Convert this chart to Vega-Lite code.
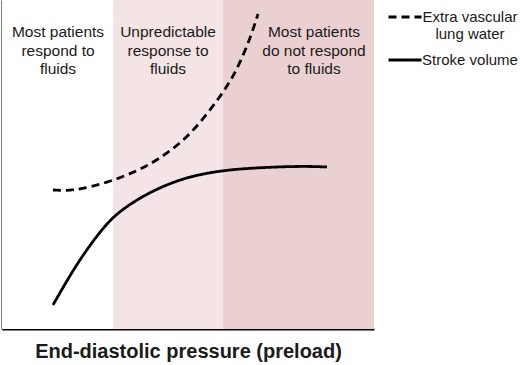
{
  "$schema": "https://vega.github.io/schema/vega-lite/v6.json",
  "width": 372,
  "height": 329,
  "autosize": "none",
  "padding": {"left": 2, "top": 0, "right": 146, "bottom": 36},
  "background": "white",
  "config": {"view": {"stroke": null}, "font": "Liberation Sans"},
  "datasets": {
    "regions": [
      {"start": 0, "end": 111, "zone": "white", "label": "Most patients\nrespond to\nfluids", "cx": 56},
      {"start": 111, "end": 221, "zone": "light", "label": "Unpredictable\nresponse to\nfluids", "cx": 166},
      {"start": 221, "end": 372, "zone": "dark", "label": "Most patients\ndo not respond\nto fluids", "cx": 312}
    ],
    "curves": [
      {"series": "Extra vascular lung water", "x": 51, "y": 139},
      {"series": "Extra vascular lung water", "x": 71, "y": 138},
      {"series": "Extra vascular lung water", "x": 105, "y": 146},
      {"series": "Extra vascular lung water", "x": 138, "y": 159},
      {"series": "Extra vascular lung water", "x": 160, "y": 172},
      {"series": "Extra vascular lung water", "x": 181, "y": 188},
      {"series": "Extra vascular lung water", "x": 198, "y": 206},
      {"series": "Extra vascular lung water", "x": 218, "y": 232},
      {"series": "Extra vascular lung water", "x": 231, "y": 252},
      {"series": "Extra vascular lung water", "x": 241, "y": 273},
      {"series": "Extra vascular lung water", "x": 250, "y": 296},
      {"series": "Extra vascular lung water", "x": 256, "y": 315},
      {"series": "Stroke volume", "x": 51, "y": 24},
      {"series": "Stroke volume", "x": 71, "y": 59},
      {"series": "Stroke volume", "x": 88, "y": 84},
      {"series": "Stroke volume", "x": 108, "y": 110},
      {"series": "Stroke volume", "x": 128, "y": 125},
      {"series": "Stroke volume", "x": 150, "y": 138},
      {"series": "Stroke volume", "x": 181, "y": 151},
      {"series": "Stroke volume", "x": 215, "y": 158},
      {"series": "Stroke volume", "x": 248, "y": 161},
      {"series": "Stroke volume", "x": 298, "y": 163},
      {"series": "Stroke volume", "x": 325, "y": 162}
    ]
  },
  "layer": [
    {
      "data": {"name": "regions"},
      "mark": {"type": "rect"},
      "encoding": {
        "x": {"field": "start", "type": "quantitative", "scale": {"domain": [0, 372], "nice": false, "zero": false},
              "axis": {"domainColor": "black", "domainWidth": 2, "ticks": false, "labels": false, "grid": false,
                       "title": "End-diastolic pressure (preload)", "titleFont": "Liberation Sans", "titleFontSize": 20,
                       "titleFontWeight": "bold", "titleColor": "#1a1a1a", "titlePadding": 12}},
        "x2": {"field": "end"},
        "y": {"datum": 0, "type": "quantitative", "scale": {"domain": [0, 329], "nice": false},
              "axis": {"domainColor": "black", "domainWidth": 2, "ticks": false, "labels": false, "grid": false, "title": null}},
        "y2": {"datum": 329},
        "color": {"field": "zone", "type": "nominal", "scale": {"domain": ["white", "light", "dark"], "range": ["#ffffff", "#f4e4e5", "#ebd0d2"]}, "legend": null}
      }
    },
    {
      "data": {"name": "regions"},
      "mark": {"type": "text", "fontSize": 15.5, "lineBreak": "\n", "lineHeight": 18.5, "align": "center", "baseline": "middle", "color": "#1a1a1a", "font": "Liberation Sans"},
      "encoding": {
        "x": {"field": "cx", "type": "quantitative"},
        "y": {"datum": 297, "type": "quantitative"},
        "text": {"field": "label"}
      }
    },
    {
      "data": {"name": "curves"},
      "mark": {"type": "line", "interpolate": "basis", "color": "black", "strokeWidth": 2.8},
      "encoding": {
        "x": {"field": "x", "type": "quantitative"},
        "y": {"field": "y", "type": "quantitative"},
        "strokeDash": {
          "field": "series", "type": "nominal",
          "scale": {"domain": ["Extra vascular lung water", "Stroke volume"], "range": [[8, 5], [1, 0]]},
          "legend": {
            "title": null, "orient": "none", "legendX": 385, "legendY": -1, "padding": 0,
            "symbolType": "stroke", "symbolSize": 1089, "symbolStrokeWidth": 2.8, "symbolStrokeColor": "black",
            "labelFont": "Liberation Sans", "labelFontSize": 15, "labelColor": "#1a1a1a", "labelLimit": 0,
            "labelAlign": "center", "labelOffset": 47, "rowPadding": -3,
            "labelExpr": "datum.value == 'Extra vascular lung water' ? ['Extra vascular', 'lung water'] : datum.value"
          }
        }
      }
    }
  ]
}
